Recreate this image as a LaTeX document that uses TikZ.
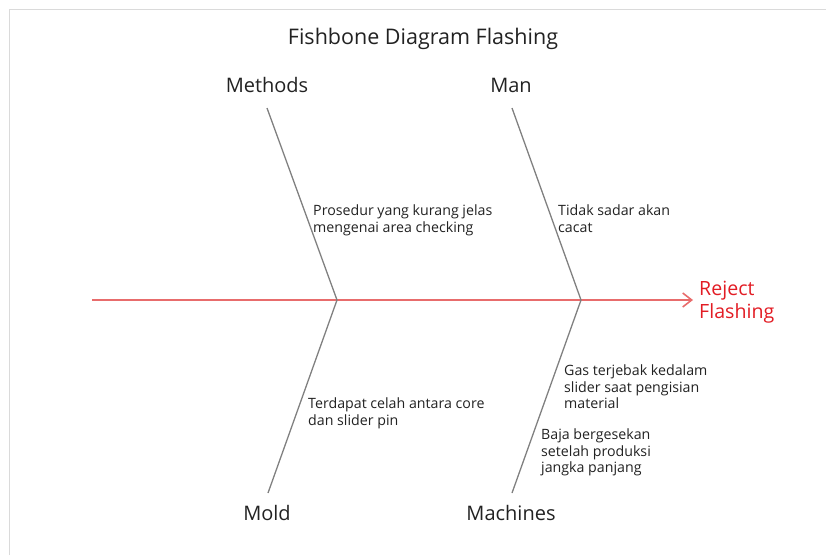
\documentclass[tikz,border=0pt]{standalone}
\usepackage{fontspec}
\setmainfont{Open Sans}
\usetikzlibrary{positioning,arrows.meta}

\definecolor{spinered}{RGB}{232,108,108}
\definecolor{effectred}{RGB}{226,28,36}
\definecolor{bonegray}{RGB}{128,128,128}
\definecolor{causegray}{RGB}{34,34,34}
\definecolor{framegray}{RGB}{218,218,218}

\begin{document}
\begin{tikzpicture}[x=1pt, y=-1pt,
  category/.style={font=\fontsize{20}{24}\selectfont, text=causegray},
  cause/.style={font=\fontsize{14.2}{16.6}\selectfont, text=causegray, align=left, anchor=north west, inner sep=0pt},
  bone/.style={draw=bonegray, line width=1.3pt},
  spine/.style={draw=spinered, line width=2.2pt, arrows=-{Straight Barb[length=9pt, width=14pt, line width=1.6pt]}}]
\useasboundingbox (0,0) rectangle (826,555);
\draw[framegray, line width=1pt] (9.5,555) -- (9.5,9.5) -- (826,9.5);
\node (title) at (423,39) [font=\fontsize{21.5}{26}\selectfont, text=causegray] {Fishbone Diagram Flashing};
% spine
\coordinate (tail) at (92,300);
\coordinate (j1) at (337,300);
\coordinate (j2) at (581,300);
\node (effect) at (693,302) [anchor=west, align=left, inner xsep=6pt, inner ysep=0pt, text=effectred, font=\fontsize{19.6}{23}\selectfont] {Reject\\Flashing};
\draw[spine] (tail) -- (effect.west |- tail);
% bones
\coordinate (methodsend) at (267,108);
\coordinate (manend) at (512,108);
\coordinate (moldend) at (268,493);
\coordinate (machinesend) at (512,493);
\node (methods)[category] at (267,85) {Methods};
\node (man)[category] at (511,85) {Man};
\node (mold)[category] at (267,513) {Mold};
\node (machines)[category] at (511,513) {Machines};
\draw[bone] (methodsend) -- (j1);
\draw[bone] (manend) -- (j2);
\draw[bone] (j1) -- (moldend);
\draw[bone] (j2) -- (machinesend);
% causes
\node (prosedur)[cause] at (313,204.5) {Prosedur yang kurang jelas\\mengenai area checking};
\node (tidak)[cause] at (558,204.5) {Tidak sadar akan\\cacat};
\node (celah)[cause] at (308,397.5) {Terdapat celah antara core\\dan slider pin};
\node (gas)[cause] at (564,364.5) {Gas terjebak kedalam\\slider saat pengisian\\material};
\node (baja)[cause] at (541,428.5) {Baja bergesekan\\setelah produksi\\jangka panjang};
\end{tikzpicture}
\end{document}
